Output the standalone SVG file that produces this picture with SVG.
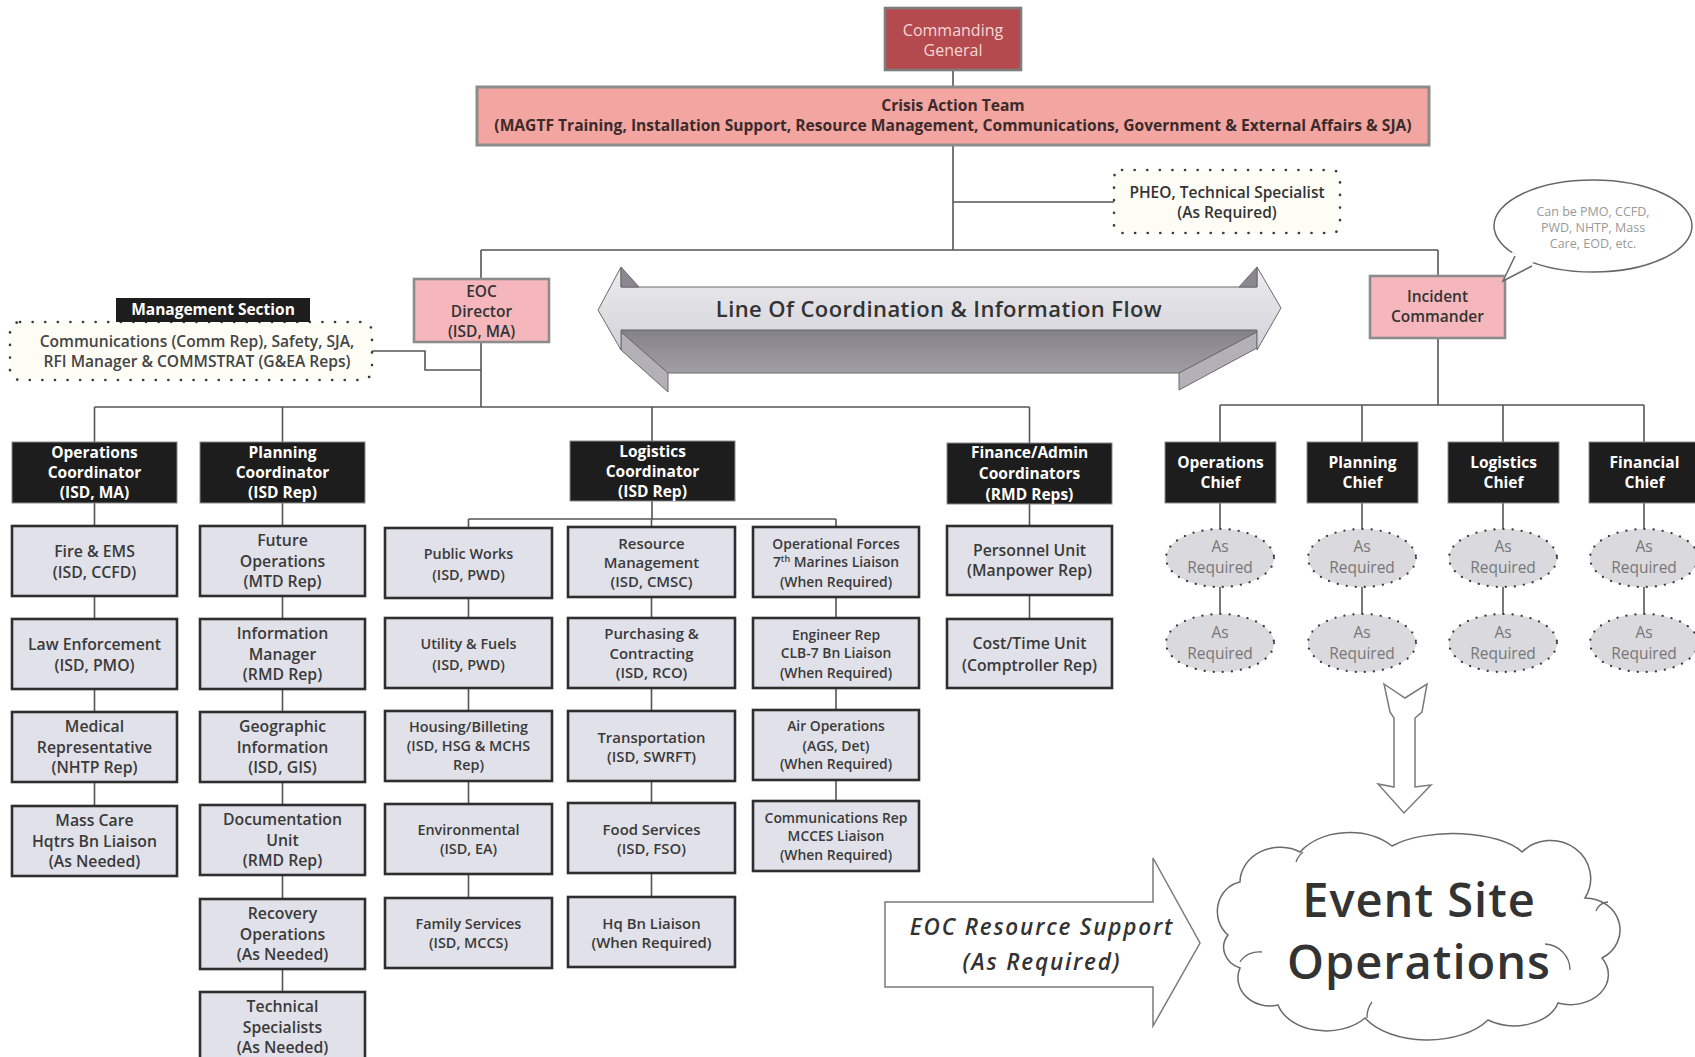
<svg xmlns="http://www.w3.org/2000/svg" width="1695" height="1057" viewBox="0 0 1695 1057">
  <defs>
    <style>
      .t { font-family: 'Open Sans', 'Noto Sans', 'Liberation Sans', sans-serif; text-anchor: middle; }
      .ln { fill: none; stroke: #555; stroke-width: 1.6; }
      .gb { fill: #e1e1e9; stroke: #2e2e2e; stroke-width: 2.6; }
      .bk { fill: #1d1d1d; stroke: #8a8a8a; stroke-width: 1; }
      .pk { fill: #f5b7bc; stroke: #8c8c8c; stroke-width: 2.6; }
      .dot { fill: #fdfdf6; stroke: #3a3a3a; stroke-width: 2.6; stroke-dasharray: 0.1 12.5; stroke-linecap: round; }
      .ell { fill: #d9d9de; stroke: #3a3a3a; stroke-width: 2.2; stroke-dasharray: 0.1 9; stroke-linecap: round; }
      .g1 { fill: #3a3a3a; font-weight: 600; font-size: 15.8px; }
      .g3 { fill: #3a3a3a; font-weight: 600; font-size: 14.4px; }
      .g4 { fill: #3a3a3a; font-weight: 600; font-size: 14.9px; }
      .g5 { fill: #3a3a3a; font-weight: 600; font-size: 13.9px; }
      .wt { fill: #ffffff; font-weight: 700; font-size: 15.5px; }
      .pt { fill: #333333; font-weight: 600; font-size: 15.5px; }
      .ar { fill: #777777; font-size: 15.5px; }
      .out { fill: #ffffff; stroke: #7a7a7a; stroke-width: 1.5; }
    </style>
    <linearGradient id="faceTop" x1="0" y1="0" x2="0" y2="1">
      <stop offset="0" stop-color="#ececf0"/>
      <stop offset="1" stop-color="#d2d2d8"/>
    </linearGradient>
    <linearGradient id="faceFront" x1="0" y1="0" x2="0" y2="1">
      <stop offset="0" stop-color="#858189"/>
      <stop offset="1" stop-color="#a19ea6"/>
    </linearGradient>
  </defs>

  <rect width="1695" height="1057" fill="#ffffff"/>

  <!-- connectors -->
  <g id="connectors" class="ln">
    <path d="M953,70 V87"/>
    <path d="M953,145 V250"/>
    <path d="M953,202 H1114"/>
    <path d="M481,250 H1438"/>
    <path d="M481,250 V279"/>
    <path d="M481,342 V407"/>
    <path d="M1438,250 V276"/>
    <path d="M1438,338 V405"/>
    <path d="M372,351 H425 V370 H481"/>
    <!-- EOC branches -->
    <path d="M94.5,407 H1029.5"/>
    <path d="M94.5,407 V442"/>
    <path d="M282.5,407 V442"/>
    <path d="M652,407 V441"/>
    <path d="M1029.5,407 V443"/>
    <!-- incident commander branches -->
    <path d="M1220,405 H1644"/>
    <path d="M1220,405 V614"/>
    <path d="M1362,405 V614"/>
    <path d="M1503,405 V614"/>
    <path d="M1644,405 V614"/>
    <!-- column spines -->
    <path d="M94.5,503 V806"/>
    <path d="M282.5,503 V992"/>
    <path d="M652,501 V519"/>
    <path d="M468.5,519 H836"/>
    <path d="M468.5,519 V898"/>
    <path d="M651.5,519 V897"/>
    <path d="M836,519 V801"/>
    <path d="M1029.5,503 V619"/>
  </g>

  <!-- top command -->
  <g id="commanding-general">
    <rect x="885" y="8" width="136" height="62" fill="#b54a4e" stroke="#7d7d7d" stroke-width="2.6"/>
    <text class="t" fill="#f6d6d6" font-size="16px"><tspan x="953" y="36">Commanding</tspan><tspan x="953" y="56">General</tspan></text>
  </g>

  <g id="crisis-action-team">
    <rect x="477" y="87" width="952" height="58" fill="#f3a5a1" stroke="#8c8c8c" stroke-width="3"/>
    <text class="t" fill="#3b2b2b" font-weight="700" font-size="15.6px"><tspan x="953" y="111">Crisis Action Team</tspan><tspan x="953" y="131">(MAGTF Training, Installation Support, Resource Management, Communications, Government &amp; External Affairs &amp; SJA)</tspan></text>
  </g>

  <g id="pheo">
    <rect class="dot" x="1114" y="170" width="226" height="63" rx="8"/>
    <text class="t pt"><tspan x="1227" y="198">PHEO, Technical Specialist</tspan><tspan x="1227" y="218">(As Required)</tspan></text>
  </g>

  <g id="eoc-director">
    <rect class="pk" x="414" y="279" width="135" height="63"/>
    <text class="t pt"><tspan x="481.5" y="297">EOC</tspan><tspan x="481.5" y="317">Director</tspan><tspan x="481.5" y="337">(ISD, MA)</tspan></text>
  </g>

  <g id="incident-commander">
    <rect class="pk" x="1370" y="276" width="135" height="62"/>
    <text class="t pt"><tspan x="1437.5" y="302">Incident</tspan><tspan x="1437.5" y="322">Commander</tspan></text>
  </g>

  <g id="ic-note">
    <ellipse cx="1593" cy="226" rx="99" ry="46" fill="#ffffff" stroke="#666" stroke-width="1.5"/>
    <path d="M1512,252 L1503,281 L1534,262 Z" fill="#ffffff"/>
    <path d="M1515,256 L1503,281 L1532,266" fill="none" stroke="#666" stroke-width="1.5"/>
    <text class="t" fill="#999999" font-size="12.5px"><tspan x="1593" y="216">Can be PMO, CCFD,</tspan><tspan x="1593" y="232">PWD, NHTP, Mass</tspan><tspan x="1593" y="248">Care, EOD, etc.</tspan></text>
  </g>

  <g id="management-section">
    <rect class="dot" x="10" y="322" width="362" height="58" rx="10"/>
    <rect x="116" y="298" width="194" height="24" fill="#1d1d1d"/>
    <text class="t wt" x="213" y="315" font-size="15px">Management Section</text>
    <text class="t" fill="#444" font-weight="600" font-size="15.6px"><tspan x="197" y="347">Communications (Comm Rep), Safety, SJA,</tspan><tspan x="197" y="367">RFI Manager &amp; COMMSTRAT  (G&amp;EA Reps)</tspan></text>
  </g>

  <!-- coordination band -->
  <g id="coordination-flow" stroke="#6a6a6a" stroke-width="1" stroke-linejoin="round">
    <polygon points="621,330 1257,330 1257,332 1179,373 668,373 621,332" fill="url(#faceFront)"/>
    <polygon points="621,332 668,373 668,392 621,350" fill="#b3b0b8"/>
    <polygon points="1257,332 1179,373 1179,390 1257,348" fill="#b3b0b8"/>
    <polygon points="598,310 621,267 621,287 1257,287 1257,267 1281,308 1257,350 1257,330 621,330 621,350" fill="url(#faceTop)"/>
    <polygon points="621,267 639,287 621,287" fill="#8a8790"/>
    <polygon points="1257,267 1239,287 1257,287" fill="#8a8790"/>
    <text class="t" x="939" y="317" fill="#333" stroke="none" font-weight="600" font-size="22px" letter-spacing="0.4">Line Of Coordination &amp; Information Flow</text>
  </g>

  <!-- coordinator headers -->
  <g id="operations-coordinator">
    <rect class="bk" x="12" y="442" width="165" height="61"/>
    <text class="t wt"><tspan x="94.5" y="458">Operations</tspan><tspan x="94.5" y="478">Coordinator</tspan><tspan x="94.5" y="498">(ISD, MA)</tspan></text>
  </g>
  <g id="planning-coordinator">
    <rect class="bk" x="200" y="442" width="165" height="61"/>
    <text class="t wt"><tspan x="282.5" y="458">Planning</tspan><tspan x="282.5" y="478">Coordinator</tspan><tspan x="282.5" y="498">(ISD Rep)</tspan></text>
  </g>
  <g id="logistics-coordinator">
    <rect class="bk" x="570" y="441" width="165" height="60"/>
    <text class="t wt"><tspan x="652.5" y="457">Logistics</tspan><tspan x="652.5" y="477">Coordinator</tspan><tspan x="652.5" y="497">(ISD Rep)</tspan></text>
  </g>
  <g id="finance-coordinators">
    <rect class="bk" x="947" y="443" width="165" height="61"/>
    <text class="t wt"><tspan x="1029.5" y="458">Finance/Admin</tspan><tspan x="1029.5" y="479">Coordinators</tspan><tspan x="1029.5" y="500">(RMD Reps)</tspan></text>
  </g>

  <!-- operations column -->
  <g id="fire-ems"><rect class="gb" x="12" y="526" width="165" height="70"/>
    <text class="t g1"><tspan x="94.5" y="557">Fire &amp; EMS</tspan><tspan x="94.5" y="578">(ISD, CCFD)</tspan></text></g>
  <g id="law-enforcement"><rect class="gb" x="12" y="619" width="165" height="70"/>
    <text class="t g1"><tspan x="94.5" y="650">Law Enforcement</tspan><tspan x="94.5" y="671">(ISD, PMO)</tspan></text></g>
  <g id="medical"><rect class="gb" x="12" y="712" width="165" height="70"/>
    <text class="t g1"><tspan x="94.5" y="732">Medical</tspan><tspan x="94.5" y="753">Representative</tspan><tspan x="94.5" y="773">(NHTP Rep)</tspan></text></g>
  <g id="mass-care"><rect class="gb" x="12" y="806" width="165" height="70"/>
    <text class="t g1"><tspan x="94.5" y="826">Mass Care</tspan><tspan x="94.5" y="847">Hqtrs Bn Liaison</tspan><tspan x="94.5" y="867">(As Needed)</tspan></text></g>

  <!-- planning column -->
  <g id="future-operations"><rect class="gb" x="200" y="526" width="165" height="70"/>
    <text class="t g1"><tspan x="282.5" y="546">Future</tspan><tspan x="282.5" y="567">Operations</tspan><tspan x="282.5" y="587">(MTD Rep)</tspan></text></g>
  <g id="information-manager"><rect class="gb" x="200" y="619" width="165" height="70"/>
    <text class="t g1"><tspan x="282.5" y="639">Information</tspan><tspan x="282.5" y="660">Manager</tspan><tspan x="282.5" y="680">(RMD Rep)</tspan></text></g>
  <g id="geographic-information"><rect class="gb" x="200" y="712" width="165" height="70"/>
    <text class="t g1"><tspan x="282.5" y="732">Geographic</tspan><tspan x="282.5" y="753">Information</tspan><tspan x="282.5" y="773">(ISD, GIS)</tspan></text></g>
  <g id="documentation-unit"><rect class="gb" x="200" y="805" width="165" height="70"/>
    <text class="t g1"><tspan x="282.5" y="825">Documentation</tspan><tspan x="282.5" y="846">Unit</tspan><tspan x="282.5" y="866">(RMD Rep)</tspan></text></g>
  <g id="recovery-operations"><rect class="gb" x="200" y="899" width="165" height="70"/>
    <text class="t g1"><tspan x="282.5" y="919">Recovery</tspan><tspan x="282.5" y="940">Operations</tspan><tspan x="282.5" y="960">(As Needed)</tspan></text></g>
  <g id="technical-specialists"><rect class="gb" x="200" y="992" width="165" height="72"/>
    <text class="t g1"><tspan x="282.5" y="1012">Technical</tspan><tspan x="282.5" y="1033">Specialists</tspan><tspan x="282.5" y="1053">(As Needed)</tspan></text></g>

  <!-- logistics: public works column -->
  <g id="public-works"><rect class="gb" x="385" y="528" width="167" height="70"/>
    <text class="t g3"><tspan x="468.5" y="559">Public Works</tspan><tspan x="468.5" y="580">(ISD, PWD)</tspan></text></g>
  <g id="utility-fuels"><rect class="gb" x="385" y="618" width="167" height="70"/>
    <text class="t g3"><tspan x="468.5" y="649">Utility &amp; Fuels</tspan><tspan x="468.5" y="670">(ISD, PWD)</tspan></text></g>
  <g id="housing-billeting"><rect class="gb" x="385" y="711" width="167" height="70"/>
    <text class="t g3"><tspan x="468.5" y="732">Housing/Billeting</tspan><tspan x="468.5" y="751">(ISD, HSG &amp; MCHS</tspan><tspan x="468.5" y="770">Rep)</tspan></text></g>
  <g id="environmental"><rect class="gb" x="385" y="804" width="167" height="70"/>
    <text class="t g3"><tspan x="468.5" y="835">Environmental</tspan><tspan x="468.5" y="854">(ISD, EA)</tspan></text></g>
  <g id="family-services"><rect class="gb" x="385" y="898" width="167" height="70"/>
    <text class="t g3"><tspan x="468.5" y="929">Family Services</tspan><tspan x="468.5" y="948">(ISD, MCCS)</tspan></text></g>

  <!-- logistics: resource column -->
  <g id="resource-management"><rect class="gb" x="568" y="527" width="167" height="70"/>
    <text class="t g4"><tspan x="651.5" y="549">Resource</tspan><tspan x="651.5" y="568">Management</tspan><tspan x="651.5" y="587">(ISD, CMSC)</tspan></text></g>
  <g id="purchasing-contracting"><rect class="gb" x="568" y="618" width="167" height="70"/>
    <text class="t g4"><tspan x="651.5" y="639">Purchasing &amp;</tspan><tspan x="651.5" y="659">Contracting</tspan><tspan x="651.5" y="678">(ISD, RCO)</tspan></text></g>
  <g id="transportation"><rect class="gb" x="568" y="711" width="167" height="70"/>
    <text class="t g4"><tspan x="651.5" y="743">Transportation</tspan><tspan x="651.5" y="762">(ISD, SWRFT)</tspan></text></g>
  <g id="food-services"><rect class="gb" x="568" y="803" width="167" height="70"/>
    <text class="t g4"><tspan x="651.5" y="835">Food Services</tspan><tspan x="651.5" y="854">(ISD, FSO)</tspan></text></g>
  <g id="hq-bn-liaison"><rect class="gb" x="568" y="897" width="167" height="70"/>
    <text class="t g4"><tspan x="651.5" y="929">Hq Bn Liaison</tspan><tspan x="651.5" y="948">(When Required)</tspan></text></g>

  <!-- logistics: liaison column -->
  <g id="operational-forces"><rect class="gb" x="753" y="527" width="166" height="70"/>
    <text class="t g5"><tspan x="836" y="549">Operational Forces</tspan><tspan x="836" y="567">7<tspan font-size="9px" dy="-5">th</tspan><tspan dy="5"> Marines Liaison</tspan></tspan><tspan x="836" y="587">(When Required)</tspan></text></g>
  <g id="engineer-rep"><rect class="gb" x="753" y="618" width="166" height="70"/>
    <text class="t g5"><tspan x="836" y="640">Engineer Rep</tspan><tspan x="836" y="658">CLB-7 Bn Liaison</tspan><tspan x="836" y="678">(When Required)</tspan></text></g>
  <g id="air-operations"><rect class="gb" x="753" y="710" width="166" height="70"/>
    <text class="t g5"><tspan x="836" y="731">Air Operations</tspan><tspan x="836" y="751">(AGS, Det)</tspan><tspan x="836" y="769">(When Required)</tspan></text></g>
  <g id="communications-rep"><rect class="gb" x="753" y="801" width="166" height="70"/>
    <text class="t g5"><tspan x="836" y="823">Communications Rep</tspan><tspan x="836" y="841">MCCES Liaison</tspan><tspan x="836" y="860">(When Required)</tspan></text></g>

  <!-- finance column -->
  <g id="personnel-unit"><rect class="gb" x="947" y="526" width="165" height="69"/>
    <text class="t g1"><tspan x="1029.5" y="556">Personnel Unit</tspan><tspan x="1029.5" y="576">(Manpower Rep)</tspan></text></g>
  <g id="cost-time-unit"><rect class="gb" x="947" y="619" width="165" height="69"/>
    <text class="t g1"><tspan x="1029.5" y="649">Cost/Time Unit</tspan><tspan x="1029.5" y="671">(Comptroller Rep)</tspan></text></g>

  <!-- incident command chiefs -->
  <g id="operations-chief"><rect class="bk" x="1165" y="442" width="111" height="61"/>
    <text class="t wt"><tspan x="1220.5" y="468">Operations</tspan><tspan x="1220.5" y="488">Chief</tspan></text></g>
  <g id="planning-chief"><rect class="bk" x="1307" y="442" width="111" height="61"/>
    <text class="t wt"><tspan x="1362.5" y="468">Planning</tspan><tspan x="1362.5" y="488">Chief</tspan></text></g>
  <g id="logistics-chief"><rect class="bk" x="1448" y="442" width="111" height="61"/>
    <text class="t wt"><tspan x="1503.5" y="468">Logistics</tspan><tspan x="1503.5" y="488">Chief</tspan></text></g>
  <g id="financial-chief"><rect class="bk" x="1589" y="442" width="111" height="61"/>
    <text class="t wt"><tspan x="1644.5" y="468">Financial</tspan><tspan x="1644.5" y="488">Chief</tspan></text></g>

  <!-- as-required staff -->
  <g id="ops-staff-1"><ellipse class="ell" cx="1220" cy="558" rx="54" ry="29"/>
    <text class="t ar"><tspan x="1220" y="552">As</tspan><tspan x="1220" y="573">Required</tspan></text></g>
  <g id="ops-staff-2"><ellipse class="ell" cx="1220" cy="643" rx="54" ry="29"/>
    <text class="t ar"><tspan x="1220" y="638">As</tspan><tspan x="1220" y="659">Required</tspan></text></g>
  <g id="plan-staff-1"><ellipse class="ell" cx="1362" cy="558" rx="54" ry="29"/>
    <text class="t ar"><tspan x="1362" y="552">As</tspan><tspan x="1362" y="573">Required</tspan></text></g>
  <g id="plan-staff-2"><ellipse class="ell" cx="1362" cy="643" rx="54" ry="29"/>
    <text class="t ar"><tspan x="1362" y="638">As</tspan><tspan x="1362" y="659">Required</tspan></text></g>
  <g id="log-staff-1"><ellipse class="ell" cx="1503" cy="558" rx="54" ry="29"/>
    <text class="t ar"><tspan x="1503" y="552">As</tspan><tspan x="1503" y="573">Required</tspan></text></g>
  <g id="log-staff-2"><ellipse class="ell" cx="1503" cy="643" rx="54" ry="29"/>
    <text class="t ar"><tspan x="1503" y="638">As</tspan><tspan x="1503" y="659">Required</tspan></text></g>
  <g id="fin-staff-1"><ellipse class="ell" cx="1644" cy="558" rx="54" ry="29"/>
    <text class="t ar"><tspan x="1644" y="552">As</tspan><tspan x="1644" y="573">Required</tspan></text></g>
  <g id="fin-staff-2"><ellipse class="ell" cx="1644" cy="643" rx="54" ry="29"/>
    <text class="t ar"><tspan x="1644" y="638">As</tspan><tspan x="1644" y="659">Required</tspan></text></g>

  <!-- flow toward the event site -->
  <g id="deploy-arrow">
    <polygon class="out" points="1384,684 1405,698 1427,684 1422,712 1415,718 1415,787 1431,785 1404,813 1378,784 1394,787 1394,718 1390,712"/>
  </g>

  <g id="eoc-resource-support">
    <path class="out" d="M885,902 H1153 V858 L1200,943 L1153,1026 V987 H885 Z"/>
    <text class="t" fill="#333" font-style="italic" font-weight="600" font-size="22.5px" letter-spacing="1.8"><tspan x="1042" y="935">EOC Resource Support</tspan><tspan x="1042" y="970">(As Required)</tspan></text>
  </g>

  <g id="event-site">
    <path d="M1228,935 A28,30 0 0 1 1240,882 A40,35 0 0 1 1300,852 A60,45 0 0 1 1392,846 A75,30 0 0 1 1522,852 A40,38 0 0 1 1585,898 A35,32 0 0 1 1602,958 A38,30 0 0 1 1558,1003 A45,30 0 0 1 1488,1020 A70,40 0 0 1 1365,1018 A50,35 0 0 1 1278,1005 A32,28 0 0 1 1240,968 A25,22 0 0 1 1228,935 Z" fill="#ffffff" stroke="#6a6a6a" stroke-width="1.5"/>
    <path d="M1240,962 A22,20 0 0 1 1262,952 M1296,862 A26,22 0 0 1 1303,852 M1545,944 A26,26 0 0 1 1570,970 M1596,911 A14,14 0 0 1 1608,902 M1367,1018 A22,24 0 0 1 1372,1002" fill="none" stroke="#6a6a6a" stroke-width="1.3"/>
    <text class="t" fill="#333" font-weight="600" font-size="47px" letter-spacing="1"><tspan x="1419" y="917">Event Site</tspan><tspan x="1419" y="979">Operations</tspan></text>
  </g>
</svg>
